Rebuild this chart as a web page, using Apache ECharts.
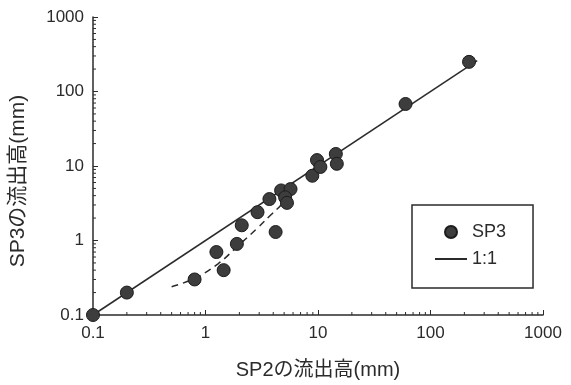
<!DOCTYPE html>
<html>
<head>
<meta charset="utf-8">
<script src="https://cdn.jsdelivr.net/npm/echarts@6/dist/echarts.min.js"></script>
<style>
html,body{margin:0;padding:0;background:#fff;}
#chart{width:571px;height:385px;}
</style>
</head>
<body>
<div id="chart"></div>
<script>
// SP3 observations (x = SP2 runoff, y = SP3 runoff), mm
const sp2 = [0.1, 0.2, 0.8, 1.25, 1.45, 1.9, 2.1, 2.9, 3.7, 4.2, 4.7, 5.7, 5.1, 5.3, 8.9, 9.8, 10.5, 14.4, 14.7, 60, 220];
const sp3 = [0.1, 0.2, 0.3, 0.7, 0.4, 0.9, 1.6, 2.4, 3.6, 1.3, 4.7, 4.9, 3.8, 3.2, 7.4, 12, 9.7, 14.5, 10.7, 68, 250];
// 1:1 line
const lineX = [0.1, 260];
const lineY = [0.1, 260];
// dashed curve
const curveX = [0.5, 0.8, 1.3, 1.95, 2.9, 3.8, 4.7, 5.4];
const curveY = [0.24, 0.31, 0.49, 0.85, 1.47, 2.2, 3.0, 4.0];
// minor tick values on both log axes
const minorTicks = [0.2,0.3,0.4,0.5,0.6,0.7,0.8,0.9, 2,3,4,5,6,7,8,9, 20,30,40,50,60,70,80,90, 200,300,400,500,600,700,800,900];
const axisMin = 0.1, axisMax = 1000;
const xName = 'SP2の流出高(mm)';
const yName = 'SP3の流出高(mm)';

const zip = (a, b) => a.map((v, i) => [v, b[i]]);
const fontFam = '"Liberation Sans", Arial, "Noto Sans CJK JP", sans-serif';
const ink = '#2b2b2b';
const fmt = v => String(+(+v).toPrecision(6));

const chart = echarts.init(document.getElementById('chart'), null, {renderer: 'canvas'});
chart.setOption({
  animation: false,
  backgroundColor: '#ffffff',
  grid: {left: 91, right: 28, top: 17, bottom: 63, containLabel: false},
  xAxis: {
    type: 'log', logBase: 10, min: axisMin, max: axisMax,
    name: xName, nameLocation: 'middle', nameGap: 45,
    nameTextStyle: {fontSize: 20, color: ink, fontFamily: fontFam},
    axisLine: {show: true, lineStyle: {color: ink, width: 1.5}},
    axisTick: {show: true, inside: true, length: 5, lineStyle: {color: ink, width: 1}},
    minorTick: {show: false},
    splitLine: {show: false},
    axisLabel: {fontSize: 17, color: ink, fontFamily: fontFam, margin: 10, formatter: fmt}
  },
  yAxis: {
    type: 'log', logBase: 10, min: axisMin, max: axisMax,
    name: yName, nameLocation: 'middle', nameGap: 64, nameRotate: 90,
    nameTextStyle: {fontSize: 21, color: ink, fontFamily: fontFam, padding: [0, 30, 0, 0]},
    axisLine: {show: true, lineStyle: {color: ink, width: 1.5}},
    axisTick: {show: true, inside: true, length: 5, lineStyle: {color: ink, width: 1}},
    minorTick: {show: false},
    splitLine: {show: false},
    axisLabel: {fontSize: 17, color: ink, fontFamily: fontFam, margin: 9, formatter: fmt}
  },
  legend: {
    data: [
      {name: 'SP3'},
      {name: '1:1', itemStyle: {opacity: 0, borderWidth: 0, color: 'transparent'}}
    ],
    orient: 'vertical',
    left: 412, top: 205,
    padding: [18, 27, 20, 22],
    itemWidth: 32, itemHeight: 12, itemGap: 9,
    borderColor: ink, borderWidth: 1.5, borderRadius: 0,
    textStyle: {fontSize: 18, color: ink, fontFamily: fontFam},
    selectedMode: false
  },
  series: [
    {
      name: '1:1', type: 'line', data: zip(lineX, lineY),
      symbol: 'none', showSymbol: false, lineStyle: {color: ink, width: 1.5}, itemStyle: {color: ink}, z: 2, silent: true
    },
    {
      name: 'curve', type: 'line', data: zip(curveX, curveY), smooth: 0.4,
      symbol: 'none', lineStyle: {color: ink, width: 1.5, type: [7, 5]}, z: 2, silent: true
    },
    {
      name: 'SP3', type: 'scatter', data: zip(sp2, sp3), symbol: 'circle', symbolSize: 13,
      itemStyle: {color: '#3d3d3d', borderColor: '#1c1c1c', borderWidth: 1, opacity: 1}, z: 3
    },
    {
      name: 'xminor', type: 'custom', silent: true, clip: false, z: 4,
      data: minorTicks.map(v => [v, axisMin]),
      renderItem: (params, api) => {
        const p = api.coord([api.value(0), api.value(1)]);
        return {type: 'line', shape: {x1: p[0], y1: p[1], x2: p[0], y2: p[1] - 3}, style: {stroke: ink, lineWidth: 1}};
      }
    },
    {
      name: 'yminor', type: 'custom', silent: true, clip: false, z: 4,
      data: minorTicks.map(v => [axisMin, v]),
      renderItem: (params, api) => {
        const p = api.coord([api.value(0), api.value(1)]);
        return {type: 'line', shape: {x1: p[0], y1: p[1], x2: p[0] + 3, y2: p[1]}, style: {stroke: ink, lineWidth: 1}};
      }
    }
  ]
});
</script>
</body>
</html>
